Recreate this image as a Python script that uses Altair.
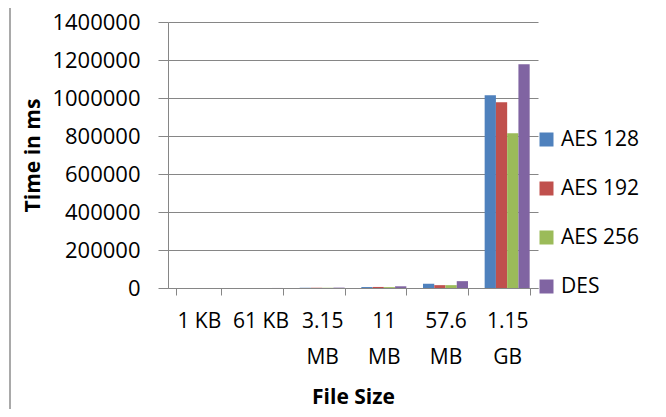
import altair as alt
import pandas as pd

sizes = ["1 KB", "61 KB", "3.15 MB", "11 MB", "57.6 MB", "1.15 GB"]
algorithms = ["AES 128", "AES 192", "AES 256", "DES"]
aes128 = [30, 120, 1200, 5000, 22000, 1015000]
aes192 = [32, 130, 1300, 5500, 15000, 978000]
aes256 = [35, 140, 1100, 4500, 15000, 815000]
des = [45, 200, 2000, 9000, 36000, 1178000]
colors = ["#4F81BD", "#C0504D", "#9BBB59", "#8064A2"]
y_ticks = [0, 200000, 400000, 600000, 800000, 1000000, 1200000, 1400000]

rows = []
for alg, vals in zip(algorithms, [aes128, aes192, aes256, des]):
    for s, v in zip(sizes, vals):
        rows.append({"size": s, "algorithm": alg, "time": v})
df = pd.DataFrame(rows)

FONT = "Open Sans"
GRAY = "#868686"

bars = alt.Chart(df).mark_bar().encode(
    x=alt.X(
        "size:N",
        sort=sizes,
        scale=alt.Scale(paddingInner=0.27, paddingOuter=0.135),
        axis=alt.Axis(
            title="File Size",
            labelAngle=0,
            tickBand="extent",
            labelExpr="(datum.label == '1 KB' || datum.label == '61 KB') ? datum.label : split(datum.label, ' ')",
            labelLineHeight=36,
            labelPadding=15,
            labelOverlap=False,
            labelFont=FONT,
            labelFontSize=21,
            labelColor="#000000",
            labelBaseline="top",
            tickSize=7,
            tickColor=GRAY,
            domainColor=GRAY,
            grid=False,
            titleFont=FONT,
            titleFontSize=21,
            titleFontWeight="bold",
            titleColor="#000000",
            titleY=109,
            titleBaseline="middle",
        ),
    ),
    xOffset=alt.XOffset("algorithm:N", sort=algorithms, scale=alt.Scale(paddingInner=0, paddingOuter=0)),
    y=alt.Y(
        "time:Q",
        scale=alt.Scale(domain=[0, 1400000], nice=False),
        axis=alt.Axis(
            values=y_ticks,
            format="d",
            title="Time in ms",
            labelFont=FONT,
            labelFontSize=22,
            labelColor="#000000",
            labelPadding=18,
            tickSize=10,
            tickColor=GRAY,
            domainColor=GRAY,
            grid=True,
            gridColor=GRAY,
            titleFont=FONT,
            titleFontSize=21,
            titleFontWeight="bold",
            titleColor="#000000",
            titleX=-135,
            titleBaseline="middle",
        ),
    ),
    color=alt.Color(
        "algorithm:N",
        sort=algorithms,
        scale=alt.Scale(domain=algorithms, range=colors),
        legend=alt.Legend(
            title=None,
            orient="none",
            legendX=368,
            legendY=107,
            padding=0,
            symbolType="square",
            symbolSize=196,
            symbolStrokeWidth=0,
            labelFont=FONT,
            labelFontSize=21,
            labelColor="#000000",
            labelOffset=4,
            rowPadding=27,
            labelExpr="datum.label == 'AES 128' ? '\u00a0AES 128' : datum.label",
        ),
    ),
)

frame = alt.Data(values=[{}])
left_line = alt.Chart(frame).mark_rule(color="#8c8c8c", strokeWidth=1.5).encode(
    x=alt.value(-158), y=alt.value(-17), y2=alt.value(387)
)
top_line = alt.Chart(frame).mark_rule(color="#8c8c8c", strokeWidth=1.5).encode(
    x=alt.value(-158), x2=alt.value(490), y=alt.value(-17)
)

chart = alt.layer(bars, left_line, top_line).properties(
    width=370,
    height=266,
    padding={"left": 160, "top": 14, "right": 120, "bottom": 121},
    autosize=alt.AutoSizeParams(type="none"),
    background="white",
).configure_view(strokeWidth=0)

chart.save("out.html", embed_options={"renderer": "svg", "actions": False})
